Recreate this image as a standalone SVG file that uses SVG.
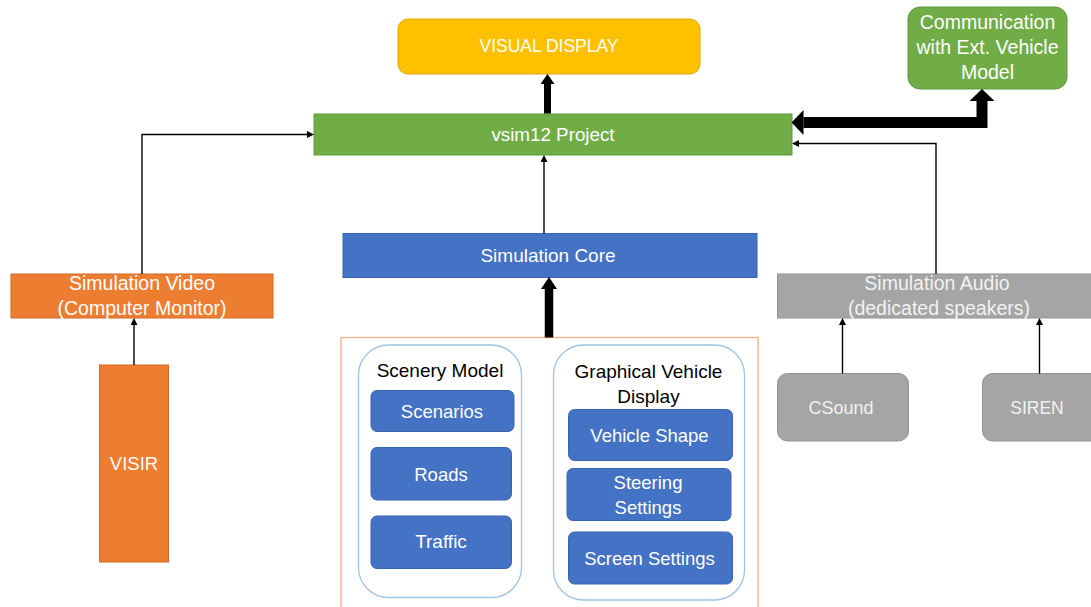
<svg xmlns="http://www.w3.org/2000/svg" width="1091" height="607" viewBox="0 0 1091 607">
<style>
text{font-family:"Liberation Sans",Arial,sans-serif;font-size:18.5px;text-anchor:middle}
.w{fill:#fff}
.g{fill:#f2f2f2}
.k{fill:#000;font-size:19px}
.big{font-size:19.5px}
.blue{fill:#4472C4;stroke:#3a64b0;stroke-width:1}
.thin{fill:none;stroke:#000;stroke-width:1.4}
.thick{fill:none;stroke:#000}
</style>
<defs>
<marker id="ah" markerUnits="userSpaceOnUse" viewBox="0 0 7 7" refX="0" refY="3.5" markerWidth="7" markerHeight="7" orient="auto"><path d="M0,0 L7,3.5 L0,7 Z" fill="#000"/></marker>
<marker id="h13" markerUnits="userSpaceOnUse" viewBox="0 0 10 14" refX="0" refY="7" markerWidth="10" markerHeight="14" orient="auto"><path d="M0,0 L10,7 L0,14 Z" fill="#000"/></marker>
<marker id="h15" markerUnits="userSpaceOnUse" viewBox="0 0 12 16" refX="0" refY="8" markerWidth="12" markerHeight="16" orient="auto"><path d="M0,0 L12,8 L0,16 Z" fill="#000"/></marker>
<marker id="h24" markerUnits="userSpaceOnUse" viewBox="0 0 12 25" refX="0" refY="12.5" markerWidth="12" markerHeight="25" orient="auto-start-reverse"><path d="M0,0 L12,12.5 L0,25 Z" fill="#000"/></marker>
</defs>

<g id="visual-display">
<rect x="398" y="19" width="302" height="55" rx="10" fill="#FFC000" stroke="#e0aa00"/>
<text class="w" x="549" y="52" style="font-size:17.5px">VISUAL DISPLAY</text>
</g>
<g id="communication">
<rect x="908" y="7" width="159" height="82" rx="12" fill="#70AD47" stroke="#5f9a3b"/>
<text class="w big" x="987.5" y="29">Communication</text>
<text class="w big" x="987.5" y="54">with Ext. Vehicle</text>
<text class="w big" x="987.5" y="79">Model</text>
</g>
<g id="vsim12">
<rect x="314" y="114" width="478" height="41" fill="#70AD47" stroke="#5f9a3b"/>
<text class="w" x="553" y="141" style="font-size:18.8px">vsim12 Project</text>
</g>
<g id="simulation-core">
<rect x="343" y="233.5" width="414" height="44" fill="#4472C4" stroke="#3a64b0"/>
<text class="w" x="548" y="262" style="font-size:19px">Simulation Core</text>
</g>
<g id="simulation-video">
<rect x="11" y="274" width="262" height="44" fill="#ED7D31" stroke="#d06a25"/>
<text class="w big" x="142" y="290">Simulation Video</text>
<text class="w big" x="142" y="315">(Computer Monitor)</text>
</g>
<g id="visir">
<rect x="99.5" y="365" width="69" height="197" fill="#ED7D31" stroke="#d06a25"/>
<text class="w" x="134" y="470">VISIR</text>
</g>
<g id="simulation-audio">
<rect x="777.5" y="274" width="320" height="44" fill="#A5A5A5" stroke="#929292"/>
<text class="g big" x="937" y="290">Simulation Audio</text>
<text class="g big" x="939" y="315">(dedicated speakers)</text>
</g>
<g id="csound">
<rect x="777.5" y="373.5" width="131" height="67.5" rx="10" fill="#A5A5A5" stroke="#929292"/>
<text class="g" x="841" y="414" style="font-size:18px">CSound</text>
</g>
<g id="siren">
<rect x="982.5" y="373.5" width="120" height="67.5" rx="10" fill="#A5A5A5" stroke="#929292"/>
<text class="g" x="1037" y="414" style="font-size:17.5px">SIREN</text>
</g>
<g id="graphics-container">
<rect x="341" y="337.5" width="417" height="280" fill="none" stroke="#F4B183" stroke-width="1.3"/>
</g>
<g id="scenery-model">
<rect x="358.5" y="345" width="163" height="252.5" rx="30" fill="#fff" stroke="#9DC3E6" stroke-width="1.3"/>
<text class="k" x="440" y="377">Scenery Model</text>
<g id="scenarios"><rect class="blue" x="371" y="390.5" width="143" height="41" rx="6"/><text class="w" x="442" y="418">Scenarios</text></g>
<g id="roads"><rect class="blue" x="371" y="447.5" width="140.5" height="52.5" rx="6"/><text class="w" x="441" y="481">Roads</text></g>
<g id="traffic"><rect class="blue" x="371" y="516" width="140.5" height="52.5" rx="6"/><text class="w" x="441" y="548" style="font-size:19px">Traffic</text></g>
</g>
<g id="graphical-vehicle-display">
<rect x="553.5" y="345" width="191" height="255" rx="30" fill="#fff" stroke="#9DC3E6" stroke-width="1.3"/>
<text class="k" x="648.5" y="378">Graphical Vehicle</text>
<text class="k" x="648.5" y="403">Display</text>
<g id="vehicle-shape"><rect class="blue" x="568.5" y="409.5" width="164" height="51" rx="6"/><text class="w" x="649.5" y="442">Vehicle Shape</text></g>
<g id="steering-settings"><rect class="blue" x="567" y="468.5" width="164" height="52" rx="6"/><text class="w" x="648" y="489">Steering</text><text class="w" x="648" y="514">Settings</text></g>
<g id="screen-settings"><rect class="blue" x="568.5" y="532" width="164" height="52" rx="6"/><text class="w" x="649.5" y="565">Screen Settings</text></g>
</g>

<g id="connectors">
<path class="thick" d="M547.5 113.5 V84" stroke-width="7" marker-end="url(#h13)"/>
<path class="thick" d="M549 337.5 V289" stroke-width="8.5" marker-end="url(#h15)"/>
<path class="thick" d="M803.5 122.5 H982 V101" stroke-width="11" marker-start="url(#h24)" marker-end="url(#h24)"/>
<path class="thin" d="M142 274 V134.5 H307" marker-end="url(#ah)"/>
<path class="thin" d="M544 233.5 V162" marker-end="url(#ah)"/>
<path class="thin" d="M936 274 V143.5 H799" marker-end="url(#ah)"/>
<path class="thin" d="M134 365 V325" marker-end="url(#ah)"/>
<path class="thin" d="M842.5 373.5 V325" marker-end="url(#ah)"/>
<path class="thin" d="M1039.5 373.5 V325" marker-end="url(#ah)"/>
</g>
</svg>
